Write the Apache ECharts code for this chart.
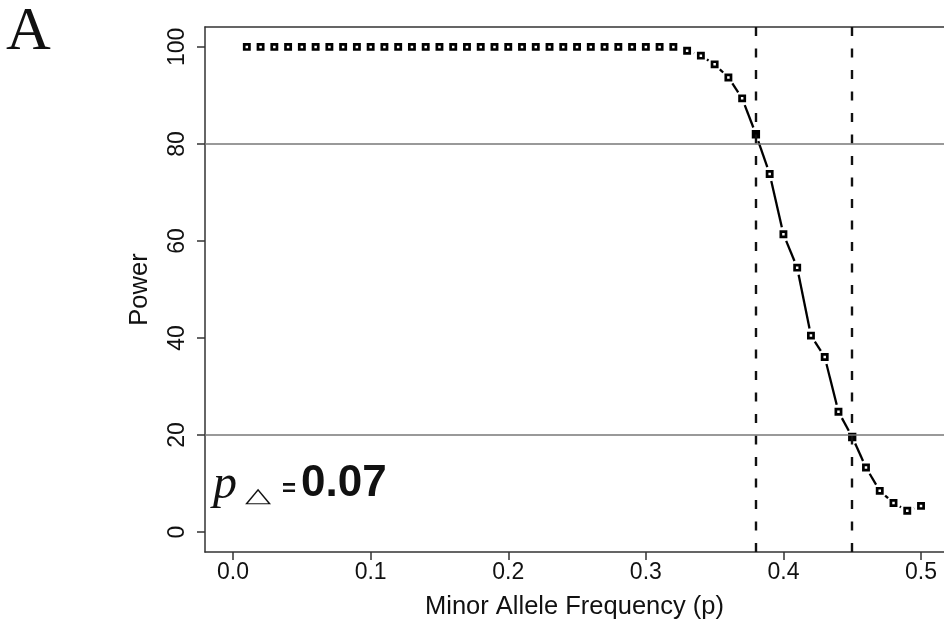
<!DOCTYPE html>
<html>
<head>
<meta charset="utf-8">
<script src="https://cdn.jsdelivr.net/npm/echarts@6/dist/echarts.min.js"></script>
<style>html,body{margin:0;padding:0;background:#fff}#c{width:944px;height:628px}</style>
</head>
<body>
<div id="c"></div>
<script>
// ---- data ----
const freq = [0.01,0.02,0.03,0.04,0.05,0.06,0.07,0.08,0.09,0.10,
              0.11,0.12,0.13,0.14,0.15,0.16,0.17,0.18,0.19,0.20,
              0.21,0.22,0.23,0.24,0.25,0.26,0.27,0.28,0.29,0.30,
              0.31,0.32,0.33,0.34,0.35,0.36,0.37,0.38,0.39,0.40,
              0.41,0.42,0.43,0.44,0.45,0.46,0.47,0.48,0.49,0.50];
const power = [100,100,100,100,100,100,100,100,100,100,
               100,100,100,100,100,100,100,100,100,100,
               100,100,100,100,100,100,100,100,100,100,
               100,100,99.2,98.2,96.4,93.7,89.4,82.0,73.8,61.4,
               54.5,40.5,36.1,24.8,19.6,13.3,8.5,6.0,4.4,5.4];
const filledFreq = [0.38, 0.45];
const vLines = [0.38, 0.45];
const hLines = [80, 20];
const xTicks = [0, 0.1, 0.2, 0.3, 0.4, 0.5];
const yTicks = [0, 20, 40, 60, 80, 100];
const xTitle = 'Minor Allele Frequency (p)';
const yTitle = 'Power';
const panelLabel = 'A';
const pDeltaValue = '0.07';

// ---- build ----
const pts = freq.map((f, i) => [f, power[i]]);
const openPts = pts.filter(p => !filledFreq.some(v => Math.abs(v - p[0]) < 1e-9));
const filledPts = pts.filter(p => filledFreq.some(v => Math.abs(v - p[0]) < 1e-9));
const segs = [];
for (let i = 0; i < pts.length - 1; i++) segs.push([pts[i][0], pts[i][1], pts[i+1][0], pts[i+1][1]]);
const GAP = 7.2;

const chart = echarts.init(document.getElementById('c'), null, {renderer: 'canvas'});
const axisCol = '#333';
const font = 'Liberation Sans';
const XMIN = -0.0204, XMAX = 0.5167;
chart.setOption({
  backgroundColor: '#fff',
  animation: false,
  grid: {left: 205, top: 27, right: 0, bottom: 76, show: false, containLabel: false},
  xAxis: [{
    type: 'value', min: XMIN, max: XMAX,
    axisLine: {show: true, onZero: false, lineStyle: {color: axisCol, width: 1.5}},
    axisTick: {show: true, length: 8, customValues: xTicks, lineStyle: {color: axisCol, width: 1.5}},
    axisLabel: {customValues: xTicks, formatter: v => v.toFixed(1), fontSize: 23, fontFamily: font, color: '#111', margin: 9},
    splitLine: {show: false},
    name: xTitle, nameLocation: 'middle', nameGap: 42,
    nameTextStyle: {fontSize: 25.5, fontFamily: font, color: '#111'}
  }, {
    type: 'value', position: 'top', min: XMIN, max: XMAX,
    axisLine: {show: true, onZero: false, lineStyle: {color: axisCol, width: 1.5}},
    axisTick: {show: false}, axisLabel: {show: false}, splitLine: {show: false}
  }],
  yAxis: {
    type: 'value', min: -4.1, max: 104.1,
    axisLine: {show: true, onZero: false, lineStyle: {color: axisCol, width: 1.5}},
    axisTick: {show: true, length: 8, customValues: yTicks, lineStyle: {color: axisCol, width: 1.5}},
    axisLabel: {customValues: yTicks, rotate: 90, fontSize: 23, fontFamily: font, color: '#111', margin: 16},
    splitLine: {show: false},
    name: yTitle, nameLocation: 'middle', nameGap: 52,
    nameTextStyle: {fontSize: 25.5, fontFamily: font, color: '#111'}
  },
  series: [
    {
      type: 'line', data: [], silent: true, z: 1,
      markLine: {
        silent: true, symbol: 'none', label: {show: false}, animation: false,
        data: vLines.map(v => ({xAxis: v, lineStyle: {color: '#111', width: 2.4, type: [9, 12.5]}}))
          .concat(hLines.map(v => ({yAxis: v, lineStyle: {color: '#777', width: 1.5, type: 'solid'}})))
      }
    },
    {
      type: 'custom', data: segs, z: 2, silent: true,
      encode: {x: [0, 2], y: [1, 3]},
      renderItem: function (params, api) {
        const a = api.coord([api.value(0), api.value(1)]);
        const b = api.coord([api.value(2), api.value(3)]);
        const dx = b[0] - a[0], dy = b[1] - a[1];
        const L = Math.sqrt(dx*dx + dy*dy);
        if (L <= 2 * GAP) return null;
        const ux = dx / L, uy = dy / L;
        return {
          type: 'line',
          shape: {x1: a[0] + ux*GAP, y1: a[1] + uy*GAP, x2: b[0] - ux*GAP, y2: b[1] - uy*GAP},
          style: {stroke: '#000', lineWidth: 2.3}
        };
      }
    },
    {
      type: 'scatter', data: openPts, symbol: 'rect', symbolSize: 5.2, z: 3, silent: true,
      itemStyle: {color: '#fff', borderColor: '#000', borderWidth: 2.7, opacity: 1}
    },
    {
      type: 'scatter', data: filledPts, symbol: 'rect', symbolSize: 5.6, z: 3, silent: true,
      itemStyle: {color: '#000', borderColor: '#000', borderWidth: 2.7, opacity: 1}
    }
  ],
  graphic: [
    {type: 'text', left: 6, top: 2, style: {text: panelLabel, font: '62px "Liberation Serif"', fill: '#111'}},
    {type: 'text', x: 213, y: 485, style: {text: 'p', font: 'italic 48px "Liberation Serif"', fill: '#111', verticalAlign: 'middle', textAlign: 'left'}},
    {type: 'text', x: 258, y: 497, scaleY: 0.6, style: {text: '\u25B3', font: '34px "DejaVu Sans"', fill: '#111', verticalAlign: 'middle', textAlign: 'center'}},
    {type: 'text', x: 289, y: 489, style: {text: '=', font: 'bold 24px "Liberation Sans"', fill: '#111', verticalAlign: 'middle', textAlign: 'center'}},
    {type: 'text', x: 301, y: 484, style: {text: pDeltaValue, font: 'bold 44px "Liberation Sans"', fill: '#111', verticalAlign: 'middle', textAlign: 'left'}}
  ]
});
</script>
</body>
</html>
